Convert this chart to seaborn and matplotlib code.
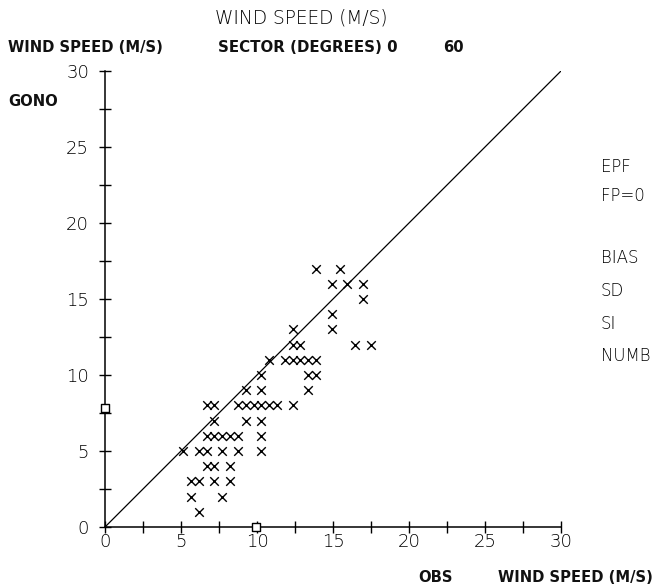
import matplotlib
matplotlib.use("Agg")
import matplotlib.pyplot as plt
import seaborn as sns
import pandas as pd
from matplotlib.ticker import MultipleLocator, FuncFormatter

# Observed wind speed (m/s) and model (GONO) wind speed (m/s)
obs = [13.89, 15.43,
       14.92, 15.95, 16.98,
       16.98,
       14.92,
       12.35, 14.92,
       12.35, 12.86, 16.46, 17.49,
       10.80, 11.83, 12.35, 12.86, 13.37, 13.89,
       10.29, 13.37, 13.89,
       9.26, 10.29, 13.37,
       6.69, 7.20, 8.74, 9.26, 9.77, 10.29, 10.80, 11.32, 12.35,
       7.20, 9.26, 10.29,
       6.69, 7.20, 7.72, 8.23, 8.74, 10.29,
       5.14, 6.17, 6.69, 7.72, 8.74, 10.29,
       6.69, 7.20, 8.23,
       5.66, 6.17, 7.20, 8.23,
       5.66, 7.72,
       6.17]
model = [17, 17,
         16, 16, 16,
         15,
         14,
         13, 13,
         12, 12, 12, 12,
         11, 11, 11, 11, 11, 11,
         10, 10, 10,
         9, 9, 9,
         8, 8, 8, 8, 8, 8, 8, 8, 8,
         7, 7, 7,
         6, 6, 6, 6, 6, 6,
         5, 5, 5, 5, 5, 5,
         4, 4, 4,
         3, 3, 3, 3,
         2, 2,
         1]
mean_obs = 9.93
mean_model = 7.8

df = pd.DataFrame({"obs": obs, "model": model})

sns.set_style("white")
plt.rcParams['font.family'] = ['DejaVu Sans']

fig = plt.figure(figsize=(6.58, 5.85), dpi=100)
ax = fig.add_axes([105/658, 1-527/585, 456/658, 456/585])

ax.plot([0, 30], [0, 30], color="black", lw=0.9, zorder=2)
sns.scatterplot(data=df, x="obs", y="model", marker="x", s=38, color="black",
                linewidth=1.0, ax=ax, zorder=3, legend=False)
ax.scatter([mean_obs], [0], marker="s", s=34, facecolors="white",
           edgecolors="black", linewidths=1.0, clip_on=False, zorder=4)
ax.scatter([0], [mean_model], marker="s", s=34, facecolors="white",
           edgecolors="black", linewidths=1.0, clip_on=False, zorder=4)

ax.set_xlim(0, 30)
ax.set_ylim(0, 30)
for s in ["top", "right"]:
    ax.spines[s].set_visible(False)
for s in ["left", "bottom"]:
    ax.spines[s].set_color("black")
    ax.spines[s].set_linewidth(1.1)

fmt = FuncFormatter(lambda v, p: f"{int(v)}")
for axis in (ax.xaxis, ax.yaxis):
    axis.set_major_locator(MultipleLocator(5))
    axis.set_minor_locator(MultipleLocator(2.5))
    axis.set_major_formatter(fmt)
ax.tick_params(which="both", bottom=True, left=True, top=False, right=False,
               direction="inout", length=9, width=1.0,
               color="black", labelsize=13, labelcolor="black")
ax.tick_params(axis="x", which="major", pad=0)
ax.tick_params(axis="y", which="major", pad=7)
ax.tick_params(which="minor", labelbottom=False, labelleft=False)
for lab in ax.get_xticklabels() + ax.get_yticklabels():
    lab.set_fontweight("light")
ax.set_xlabel("")
ax.set_ylabel("")
ax.patch.set_alpha(0)

# Header texts
fig.text(301/658, 1-18/585, "WIND SPEED (M/S)", ha="center", va="center",
         fontsize=13.4, fontweight="light", color="black")
fig.text(8/658, 1-48/585, "WIND SPEED (M/S)", ha="left", va="center",
         fontsize=10.6, fontweight="bold", color="#111111")
fig.text(218/658, 1-47/585, "SECTOR (DEGREES) 0", ha="left", va="center",
         fontsize=10.8, fontweight="bold", color="#111111")
fig.text(443/658, 1-47/585, "60", ha="left", va="center",
         fontsize=10.6, fontweight="bold", color="#111111")
fig.text(8/658, 1-101/585, "GONO", ha="left", va="center",
         fontsize=10.6, fontweight="bold", color="#111111")

# Right-side statistics (only the part visible inside the original frame)
right_texts = [("EPF", 167), ("FP=0", 196), ("BIAS", 258),
               ("SD", 291), ("SI", 324), ("NUMB", 356)]
for t, yy in right_texts:
    fig.text(601/658, 1-yy/585, t, ha="left", va="center",
             fontsize=12, fontweight="light", color="black")

# Bottom axis label
fig.text(418/658, 1-578/585, "OBS", ha="left", va="center",
         fontsize=10.6, fontweight="bold", color="#111111")
fig.text(498/658, 1-578/585, "WIND SPEED (M/S)", ha="left", va="center",
         fontsize=10.6, fontweight="bold", color="#111111")

fig.savefig("out.png", dpi=100)
